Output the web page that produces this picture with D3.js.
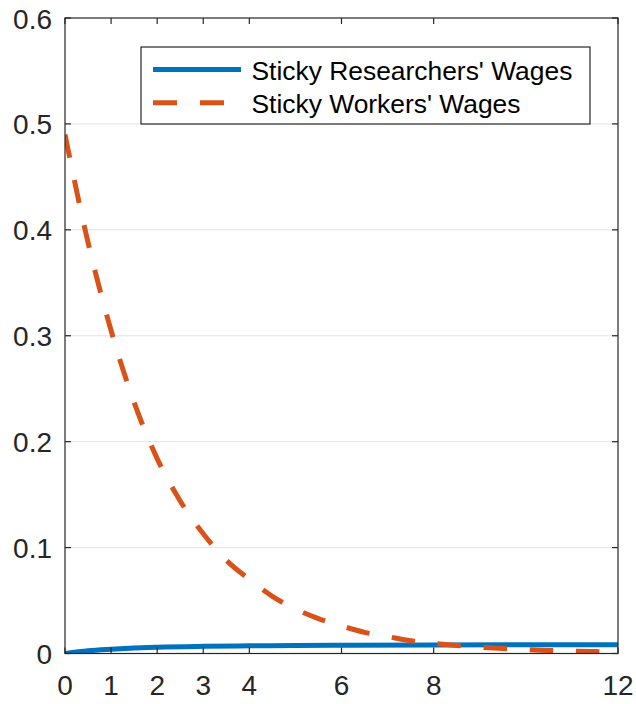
<!DOCTYPE html>
<html>
<head>
<meta charset="utf-8">
<script src="https://cdn.jsdelivr.net/npm/d3@7/dist/d3.min.js"></script>
<style>
  html, body { margin: 0; padding: 0; background: #fff; }
  svg { display: block; font-family: "Liberation Sans", Arial, Helvetica, sans-serif; }
</style>
</head>
<body>
<svg id="chart" width="636" height="704"></svg>
<script>
// ---- data ----
const workersT = [0, 0.5, 1, 1.5, 2, 2.5, 3, 3.5, 4, 4.5, 5, 5.5, 6, 6.5, 7, 7.5, 8, 8.5, 9, 9.5, 10, 10.5, 11, 11.5, 12];
const workersV = [0.490, 0.388, 0.305, 0.237, 0.184, 0.144, 0.113, 0.088, 0.070, 0.054, 0.042, 0.033, 0.026, 0.020, 0.016, 0.012, 0.0096, 0.0076, 0.0060, 0.0047, 0.0036, 0.0029, 0.0022, 0.0018, 0.0014];
const researchersT = [0, 0.5, 1, 1.5, 2, 3, 4, 5, 6, 8, 10, 12];
const researchersV = [0, 0.0025, 0.0040, 0.0052, 0.0060, 0.0068, 0.0072, 0.0075, 0.0077, 0.0080, 0.0082, 0.0083];
const xTicks = [0, 1, 2, 3, 4, 6, 8, 12];
const yTicks = [0, 0.1, 0.2, 0.3, 0.4, 0.5, 0.6];
const seriesNames = ["Sticky Researchers' Wages", "Sticky Workers' Wages"];
const seriesColors = ["#0072BD", "#D95319"];

// ---- layout ----
const svg = d3.select("#chart");
const L = 65, R = 618, T = 18, B = 653.5;
const x = d3.scaleLinear().domain([0, 12]).range([L, R]);
const y = d3.scaleLinear().domain([0, 0.6]).range([B, T]);
const axisColor = "#262626";

svg.append("defs").append("clipPath").attr("id", "plotclip")
  .append("rect").attr("x", L).attr("y", T).attr("width", R - L).attr("height", B - T);

// gridlines
svg.append("g").selectAll("line").data(yTicks.filter(d => d > 0 && d < 0.6)).join("line")
  .attr("x1", L).attr("x2", R).attr("y1", d => y(d)).attr("y2", d => y(d))
  .attr("stroke", "#e3e3e3").attr("stroke-width", 1);

const line = d3.line().x(d => x(d[0])).y(d => y(d[1])).curve(d3.curveMonotoneX);
const plot = svg.append("g").attr("clip-path", "url(#plotclip)");

const researchers = researchersT.map((t, i) => [t, researchersV[i]]);
const workers = workersT.map((t, i) => [t, workersV[i]]);

plot.append("path").datum(researchers).attr("d", line)
  .attr("fill", "none").attr("stroke", seriesColors[0]).attr("stroke-width", 5);
plot.append("path").datum(workers).attr("d", line)
  .attr("fill", "none").attr("stroke", seriesColors[1]).attr("stroke-width", 5)
  .attr("stroke-dasharray", "23.5,22.7");

// dotted zero line
svg.append("line").attr("x1", x(0)).attr("x2", x(12)).attr("y1", y(0)).attr("y2", y(0))
  .attr("stroke", "#000").attr("stroke-width", 1.2).attr("stroke-dasharray", "2,3");

// axes box
const tickLen = 6;
const axG = svg.append("g").attr("stroke", axisColor).attr("stroke-width", 1.2).attr("fill", "none");
axG.append("rect").attr("x", L).attr("y", T).attr("width", R - L).attr("height", B - T);
xTicks.forEach(t => {
  axG.append("line").attr("x1", x(t)).attr("x2", x(t)).attr("y1", B).attr("y2", B - tickLen);
  axG.append("line").attr("x1", x(t)).attr("x2", x(t)).attr("y1", T).attr("y2", T + tickLen);
});
yTicks.forEach(v => {
  axG.append("line").attr("x1", L).attr("x2", L + tickLen).attr("y1", y(v)).attr("y2", y(v));
  axG.append("line").attr("x1", R).attr("x2", R - tickLen).attr("y1", y(v)).attr("y2", y(v));
});

// tick labels
svg.append("g").selectAll("text").data(xTicks).join("text")
  .attr("x", d => x(d)).attr("y", B + 41.5)
  .attr("text-anchor", "middle").attr("font-size", 28).attr("fill", axisColor)
  .text(d => d);
svg.append("g").selectAll("text").data(yTicks).join("text")
  .attr("x", L - 13).attr("y", d => y(d) + 10.5)
  .attr("text-anchor", "end").attr("font-size", 28).attr("fill", axisColor)
  .text(d => d === 0 ? "0" : d3.format(".1f")(d));

// legend
const lg = svg.append("g");
lg.append("rect").attr("x", 141).attr("y", 47).attr("width", 449).attr("height", 77)
  .attr("fill", "#fff").attr("stroke", axisColor).attr("stroke-width", 1.2);
const rowsY = [69.5, 102.7];
seriesNames.forEach((name, i) => {
  const ln = lg.append("line").attr("x1", 153).attr("x2", 241).attr("y1", rowsY[i]).attr("y2", rowsY[i])
    .attr("stroke", seriesColors[i]).attr("stroke-width", 5);
  if (i === 1) ln.attr("stroke-dasharray", "24,23");
  lg.append("text").attr("x", 251.5).attr("y", rowsY[i] + 10)
    .attr("font-size", 26.4).attr("fill", "#000").text(name);
});
</script>
</body>
</html>
